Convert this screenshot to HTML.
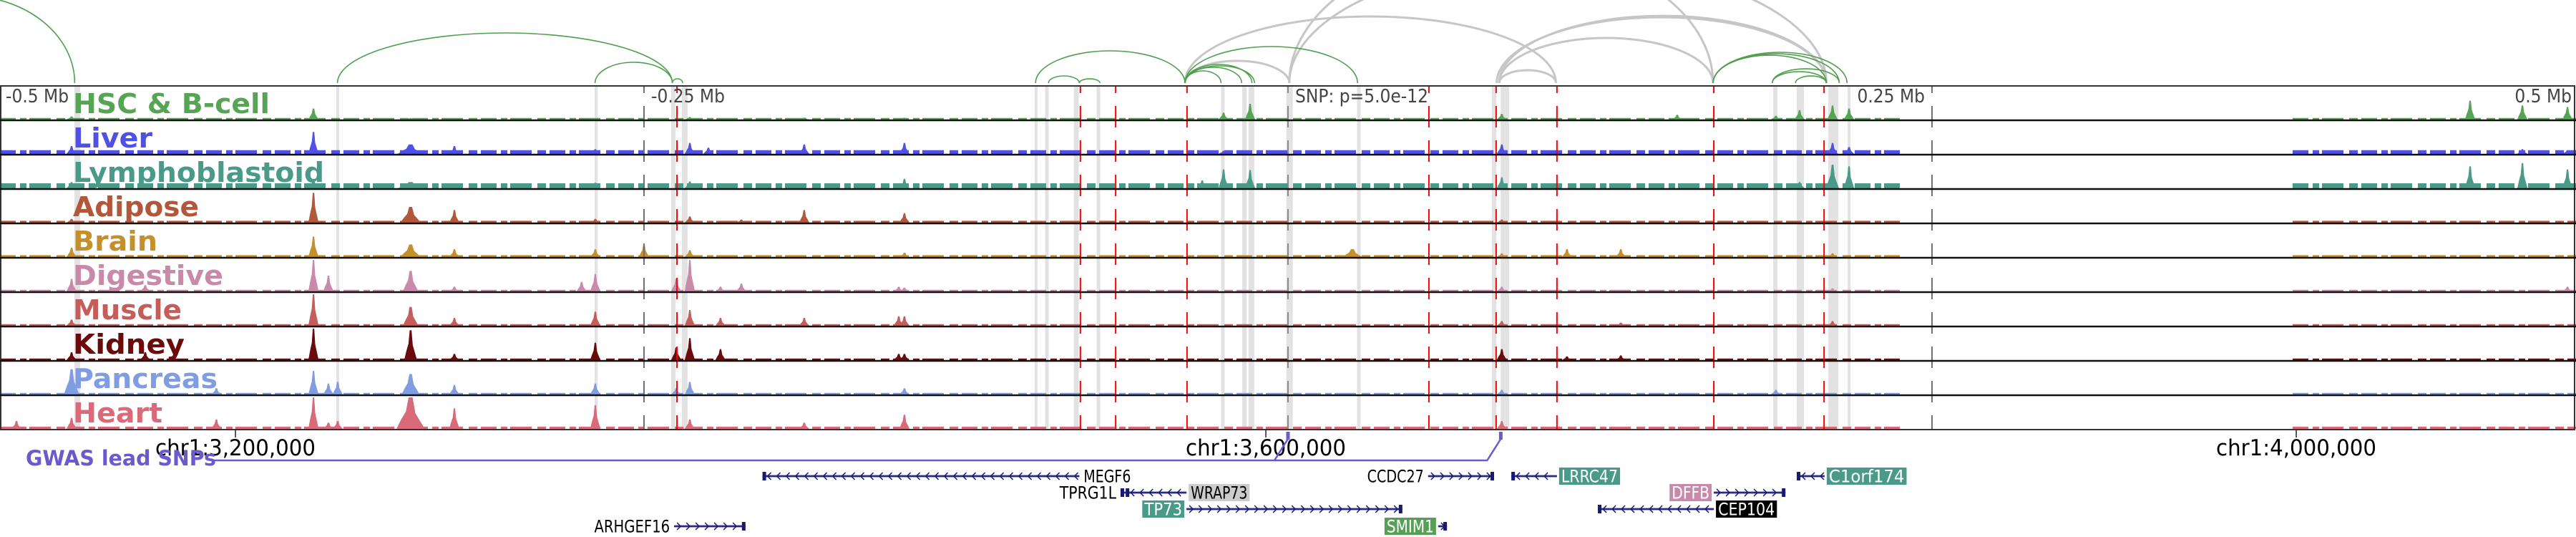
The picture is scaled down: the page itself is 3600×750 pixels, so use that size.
<!DOCTYPE html>
<html><head><meta charset="utf-8">
<style>
html,body{margin:0;padding:0;background:#fff;}
svg{display:block;}
text{font-family:"DejaVu Sans Condensed","DejaVu Sans","Liberation Sans",sans-serif;font-stretch:condensed;}
</style></head>
<body>
<svg id="chart" xmlns="http://www.w3.org/2000/svg" width="3600" height="750" viewBox="0 0 3600 750">
<g id="bands"></g>
<g id="arcs"></g>
<g id="tracks"></g>
<g id="vlines"></g>
<g id="frame"></g>
<g id="labels"></g>
<g id="axis"></g>
<g id="gwas"></g>
<g id="genes"></g>
</svg>
<script>
// ---- data (kb offsets relative to the lead SNP) ----
const trackNames = ["HSC & B-cell","Liver","Lymphoblastoid","Adipose","Brain","Digestive","Muscle","Kidney","Pancreas","Heart"];
const trackColors = ["#55a555","#5050e6","#4a9a8a","#b3573a","#c4902c","#c98aaa","#c55e5a","#6a0a0a","#7f9de0","#d96a7a"];
const trackBaseline = [0.05,0.12,0.16,0.06,0.06,0.05,0.05,0.05,0.05,0.07];
const coverage = [[-500,237.5],[390,500]];
const peaksHSC = [[-472.2,.1],[-378.3,.35],[-340.6,.05],[-232.2,.08],[-187.8,.06],[-148.9,.06],[-25,.22],[-14.7,.5],[83,.18],[151.1,.15],[189.4,.12],[198.6,.3],[211.4,.45],[217.8,.35],[458.9,.6],[479.2,.45],[496.7,.4]];
const peaksLiver = [[-472.2,.25],[-378.3,.7],[-340.6,.3,10],[-323.6,.25],[-268.9,.15],[-232.2,.35],[-225,.2],[-187.8,.3],[-148.9,.35],[-25,.1],[83,.3],[211.4,.35],[217.8,.22],[479.2,.15],[496.7,.12]];
const peaksLymph = [[-472.2,.2],[-378.3,.3],[-340.6,.2,10],[-268.9,.18],[-232.2,.22],[-148.9,.3],[-33.3,.25],[-25,.6],[-14.7,.58],[25,.12],[83,.35],[198.6,.2],[211.4,.75,5],[217.8,.7],[458.9,.7],[479.2,.8],[496.7,.6]];
const peaksAdipose = [[-472.2,.12],[-378.3,.95],[-340.6,.5,8],[-323.6,.4],[-268.9,.12],[-232.2,.2],[-212.2,.1],[-187.8,.4],[-148.9,.3],[83,.1]];
const peaksBrain = [[-472.2,.3],[-378.3,.65],[-340.6,.4,8],[-323.6,.25],[-268.9,.25],[-250,.4],[-232.2,.22],[-148.9,.14],[25,.25,8],[83,.12],[108.3,.25],[129.2,.25],[211.4,.12]];
const peaksDigestive = [[-472.2,.4],[-443.6,.2],[-378.3,1],[-372.5,.5],[-340.6,.65,6],[-323.6,.15],[-274.2,.3],[-268.9,.55],[-237.5,.4],[-232.2,1],[-220.3,.15],[-212.2,.25],[-151.1,.15],[-148.9,.12],[83,.15],[211.4,.1],[496.7,.15]];
const peaksMuscle = [[-472.2,.2],[-378.3,1],[-340.6,.6,6],[-323.6,.25],[-268.9,.45],[-232.2,.5],[-220.3,.25],[-187.8,.25],[-151.1,.3],[-148.9,.3],[83,.15],[129.2,.1],[211.4,.15]];
const peaksKidney = [[-472.2,.25],[-443.6,.25],[-378.3,1],[-340.6,.95,5],[-323.6,.2],[-268.9,.55],[-237.5,.4],[-232.2,.7],[-220.3,.35],[-151.1,.2],[-148.9,.2],[83,.35],[108.3,.12],[129.2,.15]];
const peaksPancreas = [[-472.2,.8,6],[-416,.2],[-378.3,.75],[-372.5,.35],[-368.9,.4],[-340.6,.65,7],[-323.6,.3],[-268.9,.35],[-237.5,.2],[-232.2,.4],[-148.9,.2],[83,.15],[189.4,.15]];
const peaksHeart = [[-493.6,.25],[-472.2,.35],[-416,.3],[-378.3,1],[-372.5,.2],[-368.9,.25],[-340.6,1,11],[-323.6,.65],[-268.9,.75],[-232.2,.3],[-187.8,.2],[-148.9,.45],[83,.25]];
const trackPeaks = [peaksHSC,peaksLiver,peaksLymph,peaksAdipose,peaksBrain,peaksDigestive,peaksMuscle,peaksKidney,peaksPancreas,peaksHeart];
const bandPos = [-470,-368.9,-268.6,-238.6,-234.2,-97.8,-93.6,-82.2,-73.6,-25.3,-16.9,-14.2,0.6,27.5,80,84.2,189.2,198.9,211.7,217.8];
const bandWidthKb = [2.2,1.1,1.1,1.7,2.2,1.1,1.4,1.9,1.4,1.4,1.7,2.2,2.5,1.4,1.7,3.3,1.7,2.8,3.9,1.1];
const redPos = [-237.2,-80.6,-66.9,-39.2,54.7,80.8,104.4,165.3,208.1];
const greenArcs = [[-556,-471,122],[-369,-239,70],[-269,-239,29],[-239,-235,6],[-98,-40,45],[-93,-81,10],[-81,-73,6],[-40,27,51],[-40,-26,17],[-40,-18,22],[-40,-13,24],[-40,-14,26],[165,209,39],[165,214,41],[165,217,43],[188,209,16],[188,214,20],[197,209,10]];
const grayArcs = [[-40,0.5,31],[-40,104,93],[0.5,209,170],[0.5,165,190],[82,209,94],[81,209,92],[82,165,63],[82,104,18]];
const tickKb = [-408.6,-8.6,391.4];
const tickLabels = ["chr1:3,200,000","chr1:3,600,000","chr1:4,000,000"];
const geneNames = ["MEGF6","TPRG1L","WRAP73","TP73","SMIM1","CCDC27","LRRC47","DFFB","CEP104","C1orf174","ARHGEF16"];
const geneStart = [-204,-65,-63,-39.4,58.3,54.4,86.7,165.3,120.3,197.5,-238.3];
const geneEnd = [-81,-62.5,-39.4,44.4,61.7,80,104.4,193.1,165.3,208.3,-210.6];
const geneStrand = [-1,-1,-1,1,1,1,-1,1,-1,-1,1];
const geneRow = [0,1,1,2,3,0,0,1,2,0,3];
const geneLabelSide = ["right","left","right","left","left","left","right","left","right","right","left"];
const geneLabelBg = ["none","none","#cccccc","#4a9a8a","#55a055","none","#4a9a8a","#c98aaa","#000000","#4a9a8a","none"];
const snpPos = [0,82.6];

// ---- scales / layout ----
const NS="http://www.w3.org/2000/svg";
const X = kb => 1800 + kb*3.6;
const TOP=120, TH=48, MAXH=44;
const trackTop = i => TOP + i*TH;
function el(tag, attrs, parent){const e=document.createElementNS(NS,tag);for(const k in attrs)e.setAttribute(k,attrs[k]);parent.appendChild(e);return e;}
const G = id => document.getElementById(id);

bandPos.forEach((p,i)=>{
  const w=bandWidthKb[i]*3.6;
  const r=el('rect',{x:X(p)-w/2,y:TOP,width:w,height:480,fill:'#e2e2e2'},G('bands'));
  
  
});

function arc(a,col,sw,name){
  const x1=X(a[0]),x2=X(a[1]),h=a[2],base=116;
  const rx=(x2-x1)/2;
  const p=el('path',{d:`M${x1},${base} A${rx},${h} 0 0 1 ${x2},${base}`,fill:'none',stroke:col,'stroke-width':sw},G('arcs'));
  
  
}
grayArcs.forEach(a=>arc(a,'#c6c6c6',3,'gray-loop-arc'));
greenArcs.forEach(a=>arc(a,'#4f9f4f',1.6,'green-loop-arc'));

trackNames.forEach((n,i)=>{
  const g=el('g',{},G('tracks'));
  
  
  const b=trackTop(i)+47, col=trackColors[i];
  coverage.forEach(c=>{
    const bh=Math.max(2,trackBaseline[i]*MAXH);
    const l=el('line',{x1:X(c[0]),x2:X(c[1]),y1:b-bh/2,y2:b-bh/2,stroke:col,'stroke-width':bh,'stroke-dasharray':'22 6 9 4 30 8 12 5'},g);
    
    
  });
  trackPeaks[i].forEach(pk=>{
    const x=X(pk[0]), h=pk[1]*MAXH, w=(pk[2]||4)*3.6;
    const pts=[[x-w/2,b],[x-w/3,b-h*0.3],[x-w/6,b-h*0.55],[x-w/14,b-h],[x+w/14,b-h],[x+w/6,b-h*0.5],[x+w/3,b-h*0.25],[x+w/2,b]].map(q=>q.join(',')).join(' ');
    const p=el('polygon',{points:pts,fill:col},g);
    
    
  });
});

redPos.forEach(p=>{
  const l=el('line',{x1:X(p),x2:X(p),y1:TOP,y2:600,stroke:'#ff0000','stroke-width':2,'stroke-dasharray':'30 18','stroke-dashoffset':20},G('vlines'));
  
  
});
[-250,250].forEach(p=>{
  const l=el('line',{x1:X(p),x2:X(p),y1:TOP,y2:600,stroke:'#707070','stroke-width':2,'stroke-dasharray':'30 18','stroke-dashoffset':20},G('vlines'));
  
  
});
{
  const l=el('line',{x1:1800,x2:1800,y1:TOP,y2:600,stroke:'#888','stroke-width':2,'stroke-dasharray':'30 18','stroke-dashoffset':20},G('vlines'));
  
  
}

{
  const r=el('rect',{x:1,y:TOP,width:3597,height:480,fill:'none',stroke:'#333','stroke-width':2},G('frame'));
  
  
  for(let i=1;i<10;i++){
    const l=el('line',{x1:0,x2:3600,y1:trackTop(i),y2:trackTop(i),stroke:'#111','stroke-width':2.5},G('frame'));
    
    
  }
}

const labelW=[275,111,351,176,118,210,152,156,202,125];
trackNames.forEach((n,i)=>{
  const t=el('text',{x:102,y:trackTop(i)+38,fill:trackColors[i],'font-size':38,'font-weight':'bold',textLength:labelW[i],lengthAdjust:'spacingAndGlyphs'},G('labels'));
  t.textContent=n;
  
  
});

[["-0.5 Mb",8,"start"],["-0.25 Mb",910,"start"],["SNP: p=5.0e-12",1810,"start"],["0.25 Mb",2690,"end"],["0.5 Mb",3594,"end"]].forEach(d=>{
  const t=el('text',{x:d[1],y:143,fill:'#444','font-size':26,'text-anchor':d[2]},G('axis'));
  t.textContent=d[0];
  
  
});
tickKb.forEach((p,i)=>{
  const l=el('line',{x1:X(p),x2:X(p),y1:601,y2:611,stroke:'#222','stroke-width':1.5},G('axis'));
  
  
  const t=el('text',{x:X(p),y:636,fill:'#000','font-size':31,'text-anchor':'middle',textLength:224,lengthAdjust:'spacingAndGlyphs'},G('axis'));
  t.textContent=tickLabels[i];
  
  
});

{
  const g=G('gwas');
  const t=el('text',{x:36,y:650,fill:'#6a5acd','font-size':29,'font-weight':'bold',textLength:266,lengthAdjust:'spacingAndGlyphs'},g);
  t.textContent='GWAS lead SNPs';
  
  
  const xs=snpPos.map(X);
  const p=el('path',{d:`M298,643 L${xs[1]-19},643 L${xs[1]},613 M${xs[0]-19},643 L${xs[0]},613`,fill:'none',stroke:'#6a5acd','stroke-width':2.5},g);
  
  
  xs.forEach(x=>{
    const r=el('rect',{x:x-2.5,y:603,width:5,height:11,fill:'#6a5acd'},g);
    
    
  });
}

const rowY=[665,688,711,735];
geneNames.forEach((n,i)=>{
  const g=el('g',{},G('genes'));
  
  
  const x1=X(geneStart[i]), x2=X(geneEnd[i]), y=rowY[geneRow[i]], col='#1a1a72';
  el('line',{x1:x1,x2:x2,y1:y,y2:y,stroke:'#5a5aa0','stroke-width':3},g);
  el('line',{x1:x1,x2:x2,y1:y,y2:y,stroke:col,'stroke-width':1.5},g);
  let d='';
  for(let x=x1+8;x<x2-4;x+=13){
    d+= geneStrand[i]>0 ? `M${x-4},${y-5} L${x+1},${y} L${x-4},${y+5} ` : `M${x+4},${y-5} L${x-1},${y} L${x+4},${y+5} `;
  }
  el('path',{d:d,fill:'none',stroke:col,'stroke-width':1.5},g);
  const endX = geneStrand[i]>0 ? x2-5 : x1;
  el('rect',{x:endX,y:y-6,width:5,height:12,fill:col},g);
  const w = n.length*13.2;
  const lx = geneLabelSide[i]==='right' ? x2+3 : x1-3-w-6;
  const bg=geneLabelBg[i];
  if(bg!=='none'){
    const r=el('rect',{x:lx,y:y-12,width:w+6,height:24,fill:bg},g);
    
    
  }
  const tc = (bg==='none'||bg==='#cccccc') ? '#000' : '#fff';
  const t=el('text',{x:lx+3,y:y+8.5,fill:tc,'font-size':24,textLength:w,lengthAdjust:'spacingAndGlyphs'},g);
  t.textContent=n;
  
  
});
</script>
</body></html>
